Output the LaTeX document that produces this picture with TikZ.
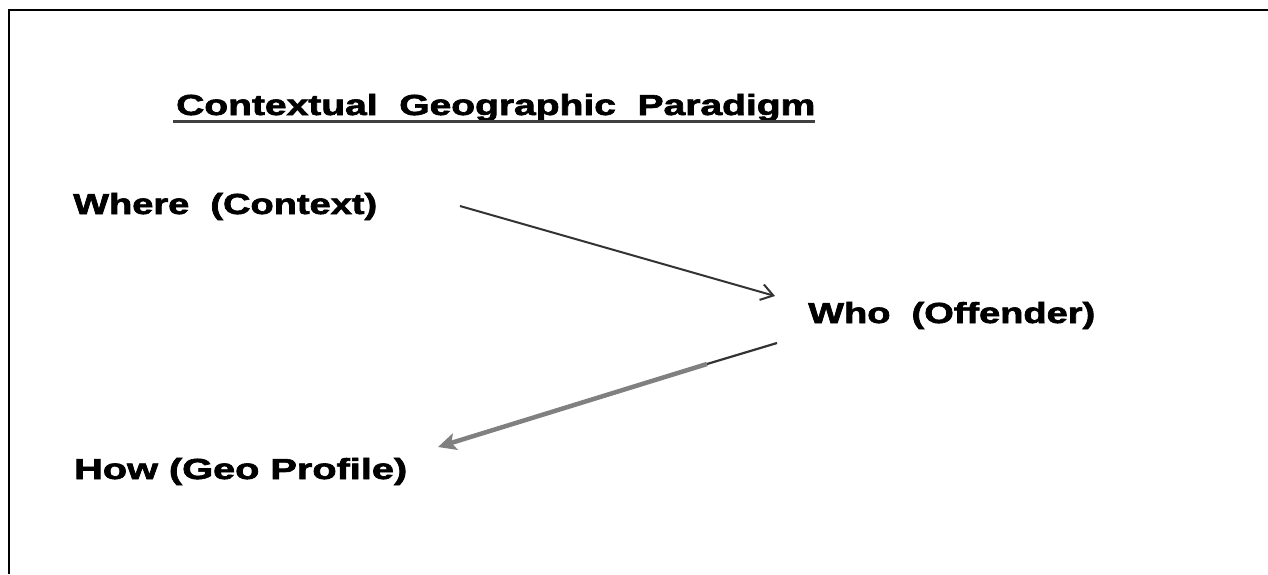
\documentclass[tikz,border=0pt]{standalone}
\usepackage{fontspec}
\setmainfont{Liberation Sans}
\newfontfamily\heavy{Liberation Sans Bold}[FakeBold=2]
\usetikzlibrary{arrows.meta}
\tikzset{
  lbl/.style={inner sep=0pt, anchor=base west, font=\fontsize{29}{31}\heavy},
  frameline/.style={line width=2.5pt, black},
  darrow/.style={line width=2pt, draw=black!80, -{Straight Barb[length=12pt,width=16pt,line width=2pt]}},
  garrow/.style={line width=4.5pt, draw=black!50, -{Stealth[length=18pt,width=17pt,inset=4pt]}},
  gstart/.style={line width=2.2pt, draw=black!80}
}
\begin{document}
\begin{tikzpicture}[x=1pt,y=-1pt]
\useasboundingbox (0,0) rectangle (1268,574);
\fill[white] (0,0) rectangle (1268,574);
% frame
\coordinate (fb) at (9,574);
\coordinate (fc) at (9,10);
\coordinate (fr) at (1268,10);
\draw[frameline] (fb) -- (fc) -- (fr);
% texts
\node[lbl] (title) at (176,115) {\resizebox{639pt}{\height}{Contextual\ \ Geographic\ \ Paradigm}};
\coordinate (ul1) at (173,121);
\coordinate (ul2) at (815,121);
\draw[line width=3pt, black!75] (ul1) -- (ul2);
\node[lbl] (where) at (73,214) {\resizebox{304pt}{\height}{Where\ \ (Context)}};
\node[lbl] (who) at (808,323) {\resizebox{287pt}{\height}{Who\ \ (Offender)}};
\node[lbl] (how) at (74,479) {\resizebox{333pt}{\height}{How (Geo Profile)}};
% arrows
\coordinate (a1s) at (460,206);
\coordinate (a1e) at (775,296);
\draw[darrow] (a1s) -- (a1e);
\coordinate (a2s) at (777,343);
\coordinate (a2m) at (707,364);
\coordinate (a2e) at (438,447);
\draw[gstart] (a2s) -- (a2m);
\draw[garrow] (a2m) -- (a2e);
\end{tikzpicture}
\end{document}
